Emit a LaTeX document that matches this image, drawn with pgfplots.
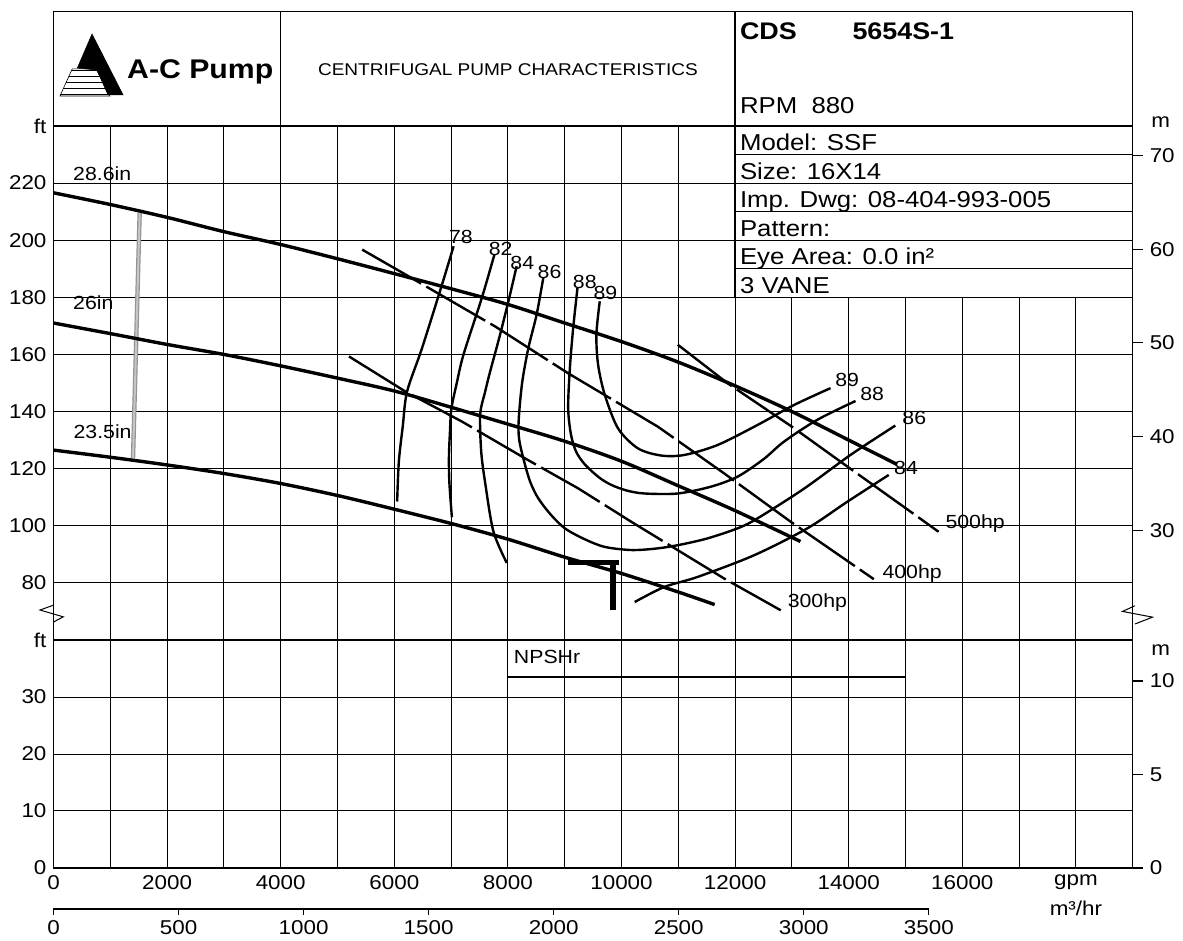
\documentclass[border=0pt]{standalone}
\usepackage{fontspec}
\setmainfont{Liberation Sans}[FakeStretch=1.12]
\usepackage{pgfplots}
\pgfplotsset{compat=1.18}
\usetikzlibrary{patterns}
\newcommand\tickf{\fontsize{10}{12}\selectfont}
\newcommand\labf{\fontsize{9.5}{11}\selectfont}
\newcommand\tabf{\fontsize{11.5}{13}\selectfont}
\tikzset{lab/.style={font=\labf, inner sep=0pt}}
\begin{document}
\begin{tikzpicture}
\useasboundingbox (-26.75pt,-36.5pt) rectangle (564.75pt,434pt);
\pgfplotsset{
  base/.style={scale only axis, width=539.6pt, xmin=0, xmax=19000, clip=false,
    scaled x ticks=false, scaled y ticks=false,
    /pgf/number format/assume math mode=true,
    tick label style={font=\tickf},
    major tick length=0pt,
    grid style={black, line width=0.5pt},
    axis line style={black, line width=0.7pt}},
  hc/.style={black, line width=1.7pt, smooth},
  ec/.style={black, line width=1.2pt, smooth},
  pc/.style={black, line width=1.2pt, dash pattern=on 34pt off 3pt},
}
% ---------------- lower panel (NPSHr) ----------------
\begin{axis}[base, at={(0,0)}, anchor=south west, height=114pt,
  ymin=0, ymax=40, ytick={0,10,20,30,40}, yticklabels={0,10,20,30,ft},
  xtick={0,1000,...,18000},
  xticklabels={0,,2000,,4000,,6000,,8000,,10000,,12000,,14000,,16000,,gpm},
  xmajorgrids, ymajorgrids]
\addplot[black, line width=0.9pt] coordinates {(0,40) (19000,40)};
\addplot[black, line width=1.4pt] coordinates {(8000,33.5) (15000,33.5)};
\node[lab, anchor=west] at (axis cs:8100,37.1) {NPSHr};
\node[font=\tickf, anchor=center] at (axis cs:18000,-7.1) {m³/hr};
\end{axis}
% ---------------- lower right (m) ----------------
\begin{axis}[base, at={(0,0)}, anchor=south west, height=114pt,
  ymin=0, ymax=12.192, axis y line*=right, axis x line=none,
  ytick={0,5,10}, yticklabels={0,5,10}, major tick length=5pt, tick align=outside,
  tick style={black, line width=0.6pt}]
\node[font=\tickf] at (axis cs:19000,11.66) [xshift=14pt] {m};
\end{axis}
% ---------------- m3/hr scale ----------------
\begin{axis}[scale only axis, at={(0,-20.5pt)}, anchor=south west, width=437.65pt, height=1pt,
  xmin=0, xmax=3500, ymin=0, ymax=1, axis x line*=bottom, hide y axis,
  scaled x ticks=false,
  xtick={0,500,...,3500}, xticklabels={0,500,1000,1500,2000,2500,3000,3500},
  tick align=outside, major tick length=3pt, tick label style={font=\tickf},
  xticklabel style={yshift=1pt},
  axis line style={black, line width=0.8pt}, tick style={black, line width=0.6pt}]
\end{axis}
% ---------------- upper panel (head) ----------------
\begin{axis}[base, at={(0,114pt)}, anchor=south west, height=257pt,
  ymin=60, ymax=240, ytick={80,100,...,240},
  yticklabels={80,100,120,140,160,180,200,220,ft},
  xtick={0,1000,...,19000}, xticklabels={}, xmajorgrids, ymajorgrids]
% header frame
\addplot[black, line width=0.7pt] coordinates {(0,240) (0,280) (19000,280) (19000,240)};
\addplot[black, line width=0.7pt] coordinates {(4000,240) (4000,280)};
\addplot[black, line width=0.7pt] coordinates {(12000,240) (12000,280)};
% info table
\addplot[draw=black, fill=white, line width=0.7pt] coordinates {(12000,180) (19000,180) (19000,240) (12000,240)} -- cycle;
\addplot[black, line width=0.6pt] coordinates {(12000,230) (19000,230)};
\addplot[black, line width=0.6pt] coordinates {(12000,220) (19000,220)};
\addplot[black, line width=0.6pt] coordinates {(12000,210) (19000,210)};
\addplot[black, line width=0.6pt] coordinates {(12000,200) (19000,200)};
\addplot[black, line width=0.6pt] coordinates {(12000,190) (19000,190)};
\node[font=\tabf, anchor=base west, inner sep=0pt] at (axis cs:12080,231.3) {Model: SSF};
\node[font=\tabf, anchor=base west, inner sep=0pt] at (axis cs:12080,221.4) {Size: 16X14};
\node[font=\tabf, anchor=base west, inner sep=0pt] at (axis cs:12080,211.5) {Imp. Dwg: 08-404-993-005};
\node[font=\tabf, anchor=base west, inner sep=0pt] at (axis cs:12080,201.4) {Pattern:};
\node[font=\tabf, anchor=base west, inner sep=0pt] at (axis cs:12080,191.5) {Eye Area: 0.0 in²};
\node[font=\tabf, anchor=base west, inner sep=0pt] at (axis cs:12080,181.5) {3 VANE};
% header texts
\node[font=\fontsize{12}{14}\selectfont\bfseries, anchor=base west, inner sep=0pt] at (axis cs:12080,270.2) {CDS};
\node[font=\fontsize{12}{14}\selectfont\bfseries, anchor=base west, inner sep=0pt] at (axis cs:14060,270.2) {5654S-1};
\node[font=\tabf, anchor=base west, inner sep=0pt] at (axis cs:12080,244.2) {RPM\ \ 880};
\node[font=\fontsize{8.5}{10}\selectfont, anchor=center, inner sep=0pt] at (axis cs:8000,259.6) {CENTRIFUGAL PUMP CHARACTERISTICS};
\node[font=\fontsize{13.5}{15}\selectfont\bfseries, anchor=base west, inner sep=0pt] at (axis cs:1290,256.5) {A-C Pump};
% logo
\addplot[fill=black, draw=black, line width=0.3pt] coordinates {(678,272.2) (1224,250.9) (960,250.9) (766,259.6) (420,260.3)} -- cycle;
\addplot[pattern=horizontal lines, draw=black, line width=0.3pt] coordinates {(330,260) (748,260) (995,250.5) (114,250.5)} -- cycle;
% break symbols
\addplot[black, line width=0.5pt] coordinates {(0,72.2) (-237,70.5) (172,68.1) (0,66.3)};
\addplot[black, line width=0.5pt] coordinates {(19040,72) (18820,70) (19350,68) (19040,65.6)};
% impeller range bar
\addplot[gray!85, line width=2.2pt] coordinates {(1517,209.5) (1400,123.6)};
\addplot[gray!45, line width=1pt] coordinates {(1517,209.5) (1400,123.6)};
% head curves
\addplot[hc] coordinates {(0,216.6) (1000,212.5) (2000,208) (3000,203) (4000,198.5) (5000,193.5) (6000,188.3) (7000,183) (8000,177.5) (9000,171) (10000,164.5) (11000,157.3) (12000,149) (13000,140) (14000,130) (14850,121.5)};
\addplot[hc] coordinates {(0,171) (1000,167.3) (2000,163.5) (3000,160) (4000,156) (5000,151.7) (6000,147.2) (7000,141.5) (8000,135.6) (9000,129.6) (10000,122.6) (11000,114) (12000,105.3) (13150,94.5)};
\addplot[hc] coordinates {(0,126.5) (1000,124) (2000,121.3) (3000,118.3) (4000,114.8) (5000,110.6) (6000,105.8) (7000,100.8) (8000,95.3) (9000,89) (10000,83.3) (11000,76.8) (11640,72.4)};
\node[lab, anchor=west] at (axis cs:340,223.2) {28.6in};
\node[lab, anchor=west] at (axis cs:340,178.2) {26in};
\node[lab, anchor=west] at (axis cs:347,133) {23.5in};
% efficiency curves
\addplot[ec] coordinates {(6050,108.5) (6080,122.5) (6150,135) (6225,147) (6488,162.2) (6839,184.4) (7044,197.9)};
\addplot[ec] coordinates {(7014,103) (6970,115) (6962,124) (6980,133) (7005,141) (7100,150) (7219,160) (7541,179.8) (7763,195)};
\addplot[ec] coordinates {(7980,87) (7745,98) (7600,115) (7530,126) (7512,139) (7600,147) (7687,154) (7850,166) (8009,178.6) (8154,190.9)};
\addplot[ec] coordinates {(10232,73.3) (10758,78.6) (11342,82.1) (12337,89.7) (13272,99.1) (13974,108.4) (14705,117.8)};
\addplot[ec] coordinates {(8623,186.8) (8505,173.9) (8360,162.2) (8250,150) (8190,137) (8200,130) (8302,121.3) (8400,115) (8535,109.6) (8750,104) (9003,99.1) (9350,95.3) (9705,92.6) (10172,91.5) (10600,92) (10991,93.2) (11500,95.5) (12044,99.1) (12395,102.6) (13214,113) (14031,124.8) (14821,135.1)};
\addplot[ec] coordinates {(9225,183.3) (9149,169.2) (9091,155.2) (9061,141.2) (9110,132) (9200,126) (9354,121.5) (9600,117) (9821,114.3) (10100,112.3) (10407,111.3) (10991,111.3) (11576,113.7) (12044,117.2) (12500,123.3) (12863,129.5) (13447,137.1) (14120,143.7)};
\addplot[ec] coordinates {(9617,178.6) (9558,166.9) (9588,156.4) (9705,145.9) (9939,134.1) (10290,127.1) (10698,124.6) (11108,124.8) (11693,128.3) (12395,135.3) (13038,142.3) (13680,148.2)};
\node[lab] at (axis cs:7172,201.2) {78};
\node[lab] at (axis cs:7874,197.1) {82};
\node[lab] at (axis cs:8254,192) {84};
\node[lab] at (axis cs:8733,188.9) {86};
\node[lab] at (axis cs:9354,185.4) {88};
\node[lab] at (axis cs:9716,181.5) {89};
\node[lab] at (axis cs:13974,150.9) {89};
\node[lab] at (axis cs:14412,146.1) {88};
\node[lab] at (axis cs:15154,137.9) {86};
\node[lab] at (axis cs:15009,120.4) {84};
% power curves
\addplot[pc] coordinates {(10991,163.4) (11868,149.9) (13000,134.7) (14000,120.4) (15000,106.2) (15582,97.9)};
\addplot[pc] coordinates {(5435,196.7) (6196,188) (7775,169.8) (9061,153.4) (10640,134.7) (11810,118.3) (12979,101.4) (14442,81.3)};
\addplot[pc] coordinates {(5202,159.3) (6196,147) (7190,136.5) (8302,123.6) (9237,113.1) (10172,101.4) (11810,81.5) (12804,70.4)};
\node[lab, anchor=west] at (axis cs:15698,100.8) {500hp};
\node[lab, anchor=west] at (axis cs:14588,83.3) {400hp};
\node[lab, anchor=west] at (axis cs:12921,73.2) {300hp};
% operating point marker
\addplot[black, line width=2.6pt] coordinates {(9060,87.0) (9950,87.0)};
\addplot[black, line width=2.6pt] coordinates {(9850,87.5) (9850,70.4)};
\end{axis}
% ---------------- upper right (m) ----------------
\begin{axis}[base, at={(0,114pt)}, anchor=south west, height=257pt,
  ymin=18.288, ymax=73.152, axis y line*=right, axis x line=none,
  ytick={30,40,50,60,70}, yticklabels={30,40,50,60,70}, major tick length=5pt, tick align=outside,
  tick style={black, line width=0.6pt}]
\node[font=\tickf] at (axis cs:19000,73.152) [xshift=14pt, yshift=2pt] {m};
\end{axis}
\end{tikzpicture}
\end{document}
